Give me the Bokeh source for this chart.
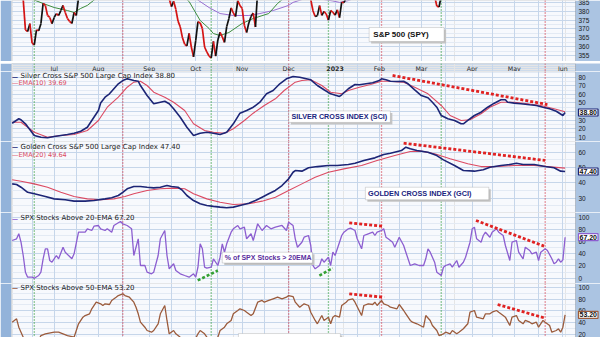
from bokeh.plotting import figure
from bokeh.layouts import column
from bokeh.models import Range1d, FixedTicker, Grid, Span, Label, BoxAnnotation, ColumnDataSource
from bokeh.embed import file_html
from bokeh.resources import INLINE
from bokeh.core.properties import value

# ---------------- DATA (x = trading-day index, 0 = 3 Jun 2022) ----------------
month_days = [19, 39, 62, 83, 104, 125, 146, 166, 185, 208, 227, 249]
month_labels = ["Jul", "Aug", "Sep", "Oct", "Nov", "Dec", "2023", "Feb", "Mar", "Apr", "May", "Jun"]
grid_days = [9, 19, 29, 39, 50, 62, 72, 83, 93, 104, 114, 125, 135, 146, 156, 166, 175, 185, 196, 208, 217, 227, 238, 249]
red_events = [50, 125, 167, 241]
green_events = [10, 90, 143, 194]

spy_ticks = [355, 360, 365, 370, 375, 380, 385]
sci_ticks = [10, 20, 30, 40, 50, 60, 70, 80]
gci_ticks = [30, 40, 50, 60]
ema20_ticks = [0, 20, 40, 60, 80, 100]
ema50_ticks = [20, 40, 60, 80, 100]

spy_day = [0,1,2,3,4,5,6,7,8,9,10,11,12,13,14,15,16,17,18,19,20,21,22,23,24,25,26,27,28,29,30,
           31,32,33,34,35,36,37,38,39,40,41,42,43,44,45,46,47,48,49,50,51,52,53,54,55,56,57,58,59,60,
           61,62,63,64,65,66,67,68,69,70,71,72,73,74,75,76,77,78,79,80,81,82,83,84,85,86,87,88,89,90,
           91,92,93,94,95,96,97,98,99,100,101,102,103,104,105,106,107,108,109,110,111,114,117,120,122,
           124,125,127,129,131,133,134,135,136,137,138,139,140,141,142,143,144,145,146,147,148,149,150,
           151,153,156,160,163,167,170,173,176,179,182,185,187,189,191,192,193,194,195,197,200,203,206,
           210,215,220,225,228,232,236,240,245,250]
spy_close = [407.5,408.5,412.0,408.5,398.0,386.5,369.5,368.5,373.0,362.0,361.0,369.5,369.0,373.0,384.5,
             383.3,377.6,376.5,373.0,376.5,378.7,377.6,380.4,383.3,379.3,375.9,374.2,373.1,379.3,377.6,387.5,
             391.8,395.8,392.1,392.6,388.0,398.0,403.1,409.0,407.6,405.4,412.5,411.5,411.1,410.2,417.7,
             414.8,421.2,424.5,425.5,426.7,423.9,424.0,419.5,409.0,405.4,405.8,399.9,393.2,395.9,395.5,
             392.6,393.4,389.2,387.8,394.8,397.4,403.6,408.0,390.1,391.6,387.1,382.6,385.6,381.1,374.4,
             371.2,365.0,361.3,360.4,367.5,359.8,354.2,363.6,374.1,373.4,370.2,359.8,357.0,354.7,353.6,
             363.0,354.6,363.8,368.1,365.5,362.4,371.3,375.9,381.9,379.0,377.0,386.0,383.2,381.5,371.9,
             368.0,373.4,377.0,379.0,371.1,391.7,395.6,390.9,399.5,392.4,392.9,404.7,396.6,390.2,390.3,
             396.5,396.4,386.6,380.3,377.0,377.5,383.2,377.7,379.9,378.4,375.0,380.4,379.4,377.8,380.8,
             376.4,385.1,384.9,387.6,394.0,395.5,397.0,398.5,413.8,405.0,407.0,404.0,396.5,395.0,391.5,
             401.0,395.0,388.6,382.9,382.4,388.7,387.0,393.0,393.0,401.0,406.0,407.0,409.0,410.0,405.0,
             411.0,409.0,410.0,415.0,416.0,425.0]
spy_ma_a_day = [0,5,10,14,19,25,28,31,34,37,42,50,60,70,76,80,85,89,91,94,98,104,109,116,120,122,130,140,150,160,175,190,205,220,235,250]
spy_ma_a = [402,393,386.3,384.4,382.1,380.4,379.3,381.6,383.3,386.3,391,397,401,396,390,385.5,374.8,370.3,367.4,366.3,368,373.1,375.9,378.7,384.4,386.5,390,389,388.5,391,398,400,398,404,409,413]
spy_ma_b_day = [0,40,70,80,84,89,94,100,107,112,118,125,127,132,140,145,148,152,158,170,190,210,230,250]
spy_ma_b = [420,412,400,390,386.3,382.1,378.7,377.6,377.6,378.7,380.4,383.3,385,387,386.8,385.8,385,386,389,392,394,396,398,400]

sci_day = [0,3,4,6,10,13,16,19,22,25,28,31,34,36,39,40,42,44,46,48,50,52,55,57,58,61,64,67,69,71,73,76,79,82,85,
           88,91,94,97,100,103,106,109,112,115,118,121,124,127,130,135,138,141,144,148,149,152,155,157,160,163,
           166,167,169,171,174,177,179,182,185,188,190,192,194,197,200,203,204,206,209,212,215,218,221,223,224,
           227,230,234,237,240,243,246,249,250]
sci_val = [26.3,31.5,30.3,25.6,12,10,9.3,10.8,12,13.1,14.6,17,21.6,29.5,41.1,50,56.7,60.6,66.5,72.3,76.1,78.1,
           76.1,75.3,70.3,58.6,49,50.8,52,49,43.1,33.3,21.6,12,14.6,15.8,14.6,13.1,15.8,25.6,38,41.1,45,50.8,
           60.6,64.5,72.3,78.1,80.8,80,77,70.3,65.3,60.6,57.5,59.5,66.5,71.5,71.1,72.3,73.5,76.1,78.1,77,75.3,
           75,75.3,72.3,65.3,58.6,56,50.8,45,35.3,31.5,29.5,25.6,25.6,29.5,35.3,39.2,45,49.7,53.6,53.6,50.8,
           49.7,49,47.8,47,45,43.1,40.3,35.3,38.8]
sci_ema_day = [0,4,10,16,22,28,34,39,43,48,52,55,58,61,64,69,73,78,82,87,91,96,100,105,109,114,119,123,128,131,
               135,140,144,149,152,157,162,167,170,177,182,188,194,198,203,207,212,216,221,227,233,239,245,250]
sci_ema = [27.5,27.5,15.8,10,12,13.1,17.8,29.5,45,56.7,68.3,74.2,75.3,70.3,62.5,56.7,50.8,41.1,25.6,17.8,15.8,
           14.6,19.8,29.5,38,47,54.8,64.5,74.2,76.1,77,70.3,62.5,60.6,64.5,68.3,71.5,75.3,75.3,74.2,68.3,60.6,
           47,35.3,29.5,30.3,37.3,45,50.8,50.8,49,47,43.1,39.7]
sci_trend_day = [172, 242]
sci_trend_val = [82.0, 48.1]

gci_day = [0,2,4,7,10,15,19,24,28,33,37,42,45,48,50,52,55,58,61,64,67,70,72,75,77,79,82,85,88,91,94,97,100,103,
           107,110,113,116,119,122,125,127,128,131,134,138,143,147,152,155,159,164,168,171,176,178,180,183,188,
           192,195,200,204,209,213,216,221,225,228,231,236,241,245,248,250]
gci_val = [39.3,38.9,37.1,33.8,32.8,31,29.5,28.9,28,28,28.4,29.5,30.2,31.7,33.8,36.1,37.6,37.6,37.1,36.7,37.1,
           38.2,37.6,37.1,35,31.7,28.4,26.3,25.2,24.6,24.1,23.7,24.1,25.2,26.6,28.4,30.6,32.8,35,38.2,42.6,46.9,
           48,47.6,49.8,50.6,51.3,51.3,52,52.8,54.6,56.3,58.5,59.3,61.1,63.3,62.2,61.1,60,57.8,55,51.3,48,47.6,
           48.5,50.2,51.3,52,52.8,52,52,50.6,49.8,47.6,47.4]
gci_ema_day = [0,4,10,16,22,28,34,40,46,51,55,61,67,73,78,82,88,94,100,107,113,119,125,131,137,143,150,158,165,
               173,180,185,191,198,206,212,218,227,236,242,250]
gci_ema = [42,41,39.3,37.1,33.8,31,29.5,28.9,29.5,31,32.8,35,36.1,36.5,36.1,32.8,29.5,27.3,25.8,26.3,28,30.6,
           35,39.3,43.6,46.9,49.1,51.3,54.6,57.8,60.5,60.7,59,55.7,52.4,50.6,50.6,51.3,51.3,50.6,49.6]
gci_trend_day = [177, 241]
gci_trend_val = [65.9, 54.6]

ema20_day = [0,2,3,4,5,6,7,9,10,12,13,14,15,16,17,18,20,21,23,24,27,28,30,33,34,36,37,39,40,42,43,45,46,48,49,
             50,52,54,55,57,58,60,61,63,64,66,67,69,70,71,73,74,76,78,80,82,83,84,85,86,87,88,90,91,93,94,95,
             96,97,99,100,102,103,105,106,108,109,111,113,115,117,119,122,124,125,127,128,129,131,132,134,135,
             136,137,139,140,141,143,144,145,146,148,149,150,152,153,155,156,158,159,161,163,164,165,167,168,
             169,170,172,173,175,177,178,180,182,184,186,187,188,189,191,192,194,195,196,198,199,201,202,204,
             205,207,208,209,210,212,213,214,216,217,219,220,222,223,225,226,228,229,231,232,234,235,237,238,
             239,241,242,244,245,246,247,248,249,250]
ema20_pct = [61.8,64.6,72.8,59,37.2,9.9,1.7,1.7,0,4.4,9.9,31.8,48.2,48.2,29,26.2,37.2,31.8,50.8,42.6,31.8,40,
             75.4,75.4,81,78.2,85.2,86.4,81,78.2,81,75.4,86.4,90.8,93,89.2,86.4,81,37.2,64.6,20.8,20.8,9.9,7.2,
             9.9,37.2,64.6,78.2,37.2,15.4,23.6,12.6,7.2,4.4,1.7,7.2,1.7,18,56.4,48.2,18,16.4,18,31.8,20.8,34.4,
             56.4,42.6,56.4,75.4,81,86.4,81,83.6,64.6,72.8,61.8,89.2,78.2,86.4,81,83.6,86.4,78.2,91.8,86.4,64.6,
             50.8,59,67.2,70,53.6,20.8,15.4,20.8,31.8,26.2,34.4,20.8,42.6,37.2,59,70,75.4,81,82,78.2,64.6,48.2,
             70,72.8,75.4,70,75.4,78.2,81,67.2,64.6,59,50.8,67.2,53.6,42.6,20.8,23.6,20.8,20.8,31.8,48.2,42.6,
             26.2,9.9,4.4,18,20.8,23.6,18,29,18,26.2,34.4,59,81,83.6,64.6,59,70,75.4,67.2,75.4,81,75.4,70,53.6,
             29,59,61.8,42.6,31.8,50.8,45.4,40,42.6,29,42.6,48.2,45.4,31.8,23.6,26.2,31.8,26.2,30,67.2]
ema20_trend_red = [([152.4, 167.5], [90.8, 85.2]), ([209.7, 240.5], [94.6, 52.5])]
ema20_trend_green = [([83.9, 93.0], [-3.7, 12.6]), ([138.9, 144.9], [4.4, 16.4])]

ema50_day = [0,1,2,3,5,7,10,12,13,15,19,21,23,25,28,30,32,33,35,36,38,40,41,42,44,45,47,48,50,51,53,55,56,57,58,
             60,61,63,64,66,67,69,70,71,73,74,76,78,80,82,84,85,87,89,91,93,94,96,97,99,100,102,103,105,106,108,
             109,111,113,114,116,118,120,122,124,125,127,128,130,132,134,135,137,138,140,141,143,144,145,146,148,
             149,151,152,154,155,158,159,161,163,164,165,167,168,170,171,174,175,177,178,180,181,183,186,187,189,
             190,192,193,195,196,198,199,201,202,204,206,207,209,210,213,214,216,217,219,220,222,223,225,226,228,
             229,231,232,234,235,237,238,240,241,243,244,246,247,248,249,250]
ema50_pct = [40.7,43.6,46.4,32.2,15.3,8,3,10,18,21,23.7,23.7,21,18.1,15.3,38,49.2,52,54.9,63.4,74.6,71.9,69,
             71.9,70.7,77.5,83,85.9,88.8,85.9,83,74.6,66.1,54.9,40.7,32.2,26.6,23.7,26.6,38,54.9,69,43.6,21,26.6,
             21,15.3,10,8,6,21,26.6,21,10,8,15.3,26.6,32.2,38,43.6,54.9,60.5,63.4,60.5,57.6,52,54.9,74.6,77.5,
             74.6,77.5,80.3,83,80.3,83,85.9,84.2,74.6,66.1,71.9,69,57.6,43.6,38,52,43.6,49.2,38,49.2,52,49.2,69,
             74.6,78.6,80.3,74.6,52,69,71.9,70.7,74.6,69,77.5,71.9,69,66.1,63.4,70.7,60.5,54.9,43.6,40.7,38,32.2,
             52,43.6,35.1,26.6,18.1,21,23.7,21,26.6,21,23.7,29.5,38,57.6,60.5,49.2,46.4,54.9,54.9,57.6,60.5,57.6,
             52,49.2,35.1,49.2,52,43.6,38,43.6,40.7,38,40.7,32.2,43.6,40.7,35.1,23.7,26.6,29.5,23.7,32.2,53.2]
ema50_trend_red = [([152.4, 168.2], [88.8, 83.0]), ([219.5, 240.5], [70.7, 48.1])]

# ---------------- STYLE / LAYOUT ----------------
X0, X1 = -0.3, 254.7                    # price-area span (564 px)
X2 = X0 + (X1 - X0) * 589.0 / 564.0     # frame also covers the 25 px scale column
xr = Range1d(X0, X2)
LEFT_BG = "#93b3da"
RIGHT_BG = "#abc4e2"
BG = "#f7f9fd"
GRID = "#c6d6ea"
MINOR = "#e3eaf4"
OUTLINE = "#6c6c6c"
FONT = "DejaVu Sans"
AXFONT = "Liberation Sans"
RED_EV = "#d43b4b"
GREEN_EV = "#2f9b3a"
NAVY = "#1c2576"
EMA_RED = "#dc4a62"
PURPLE = "#8c5ed0"
BROWN = "#9b5b3c"
TREND_RED = "#e02222"
TREND_GREEN = "#33a033"


def base(h, yr, ticks=None, minors=None):
    p = figure(width=600, height=h, x_range=xr, y_range=Range1d(*yr), output_backend="svg",
               toolbar_location=None, x_axis_location=None, y_axis_location=None,
               min_border_left=11, min_border_right=0, min_border_top=0, min_border_bottom=0)
    p.background_fill_color = BG
    p.border_fill_color = LEFT_BG
    p.outline_line_color = None
    if ticks:
        p.add_layout(Grid(dimension=1, ticker=FixedTicker(ticks=ticks, minor_ticks=minors),
                          grid_line_color=GRID, minor_grid_line_color=MINOR))
    p.add_layout(Grid(dimension=0, ticker=FixedTicker(ticks=grid_days), grid_line_color=GRID))
    for d in red_events:
        p.add_layout(Span(location=d, dimension="height", line_color=RED_EV, line_dash="1 2",
                          line_width=1.3, level="underlay"))
    for d in green_events:
        p.add_layout(Span(location=d, dimension="height", line_color=GREEN_EV, line_dash="1 2",
                          line_width=1.3, level="underlay"))
    # scale column on the right
    p.add_layout(BoxAnnotation(left=X1, right=X2, bottom=yr[0], top=yr[1], fill_color=RIGHT_BG,
                               fill_alpha=1, line_color=None, level="underlay"))
    # outline of the price area
    p.add_layout(BoxAnnotation(left=X0, right=X1, bottom=yr[0], top=yr[1], fill_alpha=0,
                               line_color=OUTLINE, line_width=1, level="annotation"))
    if ticks:
        p.text(x=[X1] * len(ticks), y=ticks, text=[str(t) for t in ticks], x_offset=3,
               text_baseline="middle", text_align="left", text_font=value(AXFONT),
               text_font_size=value("6.5px"), text_color="#1a1a1a")
    return p


def legend(p, h, off, mcolor, text, tcolor="#222222", size="7px"):
    p.add_layout(Label(x=0.5, y=h - off, x_units="screen", y_units="screen", text="\u2014",
                       text_color=mcolor, text_font=FONT, text_font_size="6px", text_font_style="bold",
                       text_baseline="middle"))
    p.add_layout(Label(x=9, y=h - off, x_units="screen", y_units="screen", text=text,
                       text_color=tcolor, text_font=FONT, text_font_size=size, text_baseline="middle"))


def legend2(p, h, off, color, text):
    p.add_layout(Label(x=0.5, y=h - off, x_units="screen", y_units="screen", text="\u2014" + text,
                       text_color=color, text_font=FONT, text_font_size="6.5px", text_baseline="middle"))


def vbox(p, v, txt, color):
    p.add_layout(Label(x=X1, y=v, text=txt, x_offset=3, text_baseline="middle", text_align="left",
                       text_font=AXFONT, text_font_size="7px", text_font_style="bold", text_color="#111111",
                       background_fill_color="white", border_line_color=color, border_line_width=1.2,
                       padding=1))


def tbox(p, l, r, b, t, dy, tx=None, ty=None, text=None, color=None, size=None):
    p.add_layout(BoxAnnotation(left=l + 0.9, right=r + 0.9, bottom=b - dy, top=t - dy, fill_color="#c4c4c4",
                               fill_alpha=1, line_color=None, level="annotation"))
    p.add_layout(BoxAnnotation(left=l, right=r, bottom=b, top=t, fill_color="white", fill_alpha=1,
                               line_color="#8a8a8a", line_width=1, level="annotation"))
    if text:
        p.add_layout(Label(x=tx, y=ty, text=text, text_color=color, text_font=AXFONT, text_font_size=size,
                           text_font_style="bold", text_baseline="middle"))


# ---------------- PANEL 1 : SPY ----------------
p1 = base(61, (351.61, 386.07), spy_ticks, [357.5, 362.5, 367.5, 372.5, 377.5, 382.5])
p1.line(spy_ma_b_day, spy_ma_b, line_color="#9a6fd0", line_width=1)
p1.line(spy_ma_a_day, spy_ma_a, line_color="#3c8c3c", line_width=1)
seg_col = ["#d41414" if b < a else "#111111" for a, b in zip(spy_close[:-1], spy_close[1:])]
p1.segment(x0=spy_day[:-1], y0=spy_close[:-1], x1=spy_day[1:], y1=spy_close[1:], line_color=seg_col,
           line_width=1.7)
tbox(p1, 161.4, 195.3, 362.9, 370.8, 1.1, 163.3, 366.9, "S&P 500 (SPY)", "#111111", "8px")

# ---------------- MONTH STRIP ----------------
ps = base(10, (0, 1))
ps.background_fill_color = "#cddbec"
styles = ["bold" if lab.isdigit() else "normal" for lab in month_labels]
src = ColumnDataSource(dict(x=month_days, y=[0.52] * len(month_days), t=month_labels, s=styles))
ps.text(x="x", y="y", text="t", source=src, text_align="center", text_baseline="middle",
        text_font=value(FONT), text_font_size=value("6.3px"), text_font_style="s", text_color="#2a2a2a")

# ---------------- PANEL 2 : SCI ----------------
p2 = base(70, (4.97, 86.65), sci_ticks, [15, 25, 35, 45, 55, 65, 75, 85])
p2.line(sci_ema_day, sci_ema, line_color=EMA_RED, line_width=1.1)
p2.line(sci_day, sci_val, line_color=NAVY, line_width=1.6)
p2.line(sci_trend_day, sci_trend_val, line_color=TREND_RED, line_width=2.8, line_dash="3 2")
legend(p2, 70, 4.7, NAVY, "Silver Cross S&P 500 Large Cap Index 38.80")
legend2(p2, 70, 11.7, EMA_RED, "EMA(10) 39.69")
tbox(p2, 125.1, 171.0, 27.2, 40.6, 2.3, 126.3, 33.9, "SILVER CROSS INDEX (SCI)", "#1a2580", "7.2px")
vbox(p2, 38.8, "38.80", NAVY)

# ---------------- PANEL 3 : GCI ----------------
p3 = base(71, (20.59, 66.99), gci_ticks, [25, 35, 45, 55, 65])
p3.line(gci_ema_day, gci_ema, line_color=EMA_RED, line_width=1.1)
p3.line(gci_day, gci_val, line_color=NAVY, line_width=1.6)
p3.line(gci_trend_day, gci_trend_val, line_color=TREND_RED, line_width=2.8, line_dash="3 2")
legend(p3, 71, 5.0, NAVY, "Golden Cross S&P 500 Large Cap Index 47.40")
legend2(p3, 71, 13.3, EMA_RED, "EMA(20) 49.64")
tbox(p3, 159.7, 215.5, 28.9, 37.1, 1.3, 160.9, 33.0, "GOLDEN CROSS INDEX (GCI)", "#1a2580", "7.3px")
vbox(p3, 47.4, "47.40", NAVY)

# ---------------- PANEL 4 : % > 20 EMA ----------------
p4 = base(71, (-8.69, 107.7), ema20_ticks, [10, 30, 50, 70, 90])
p4.line(ema20_day, ema20_pct, line_color=PURPLE, line_width=1.3)
for xs, ys in ema20_trend_red:
    p4.line(xs, ys, line_color=TREND_RED, line_width=2.8, line_dash="3 2")
for xs, ys in ema20_trend_green:
    p4.line(xs, ys, line_color=TREND_GREEN, line_width=2.6, line_dash="3 2")
legend(p4, 71, 5.7, PURPLE, "SPX Stocks Above 20-EMA 67.20")
tbox(p4, 95.0, 135.8, 24.9, 42.6, 3.3, 96.1, 34.0, "% of SPX Stocks > 20EMA", "#5a2f9e", "7px")
vbox(p4, 67.2, "67.20", PURPLE)

# ---------------- PANEL 5 : % > 50 EMA ----------------
p5 = base(54, (14.75, 106.27), ema50_ticks, [30, 50, 70, 90])
p5.line(ema50_day, ema50_pct, line_color=BROWN, line_width=1.3)
for xs, ys in ema50_trend_red:
    p5.line(xs, ys, line_color=TREND_RED, line_width=2.8, line_dash="3 2")
legend(p5, 54, 4.3, BROWN, "SPX Stocks Above 50-EMA 53.20")
tbox(p5, 102.3, 148.4, 8, 21.5, 3.4)
vbox(p5, 53.2, "53.20", BROWN)

layout = column(p1, ps, p2, p3, p4, p5, spacing=0)
open("out.html", "w").write(file_html(layout, INLINE))
